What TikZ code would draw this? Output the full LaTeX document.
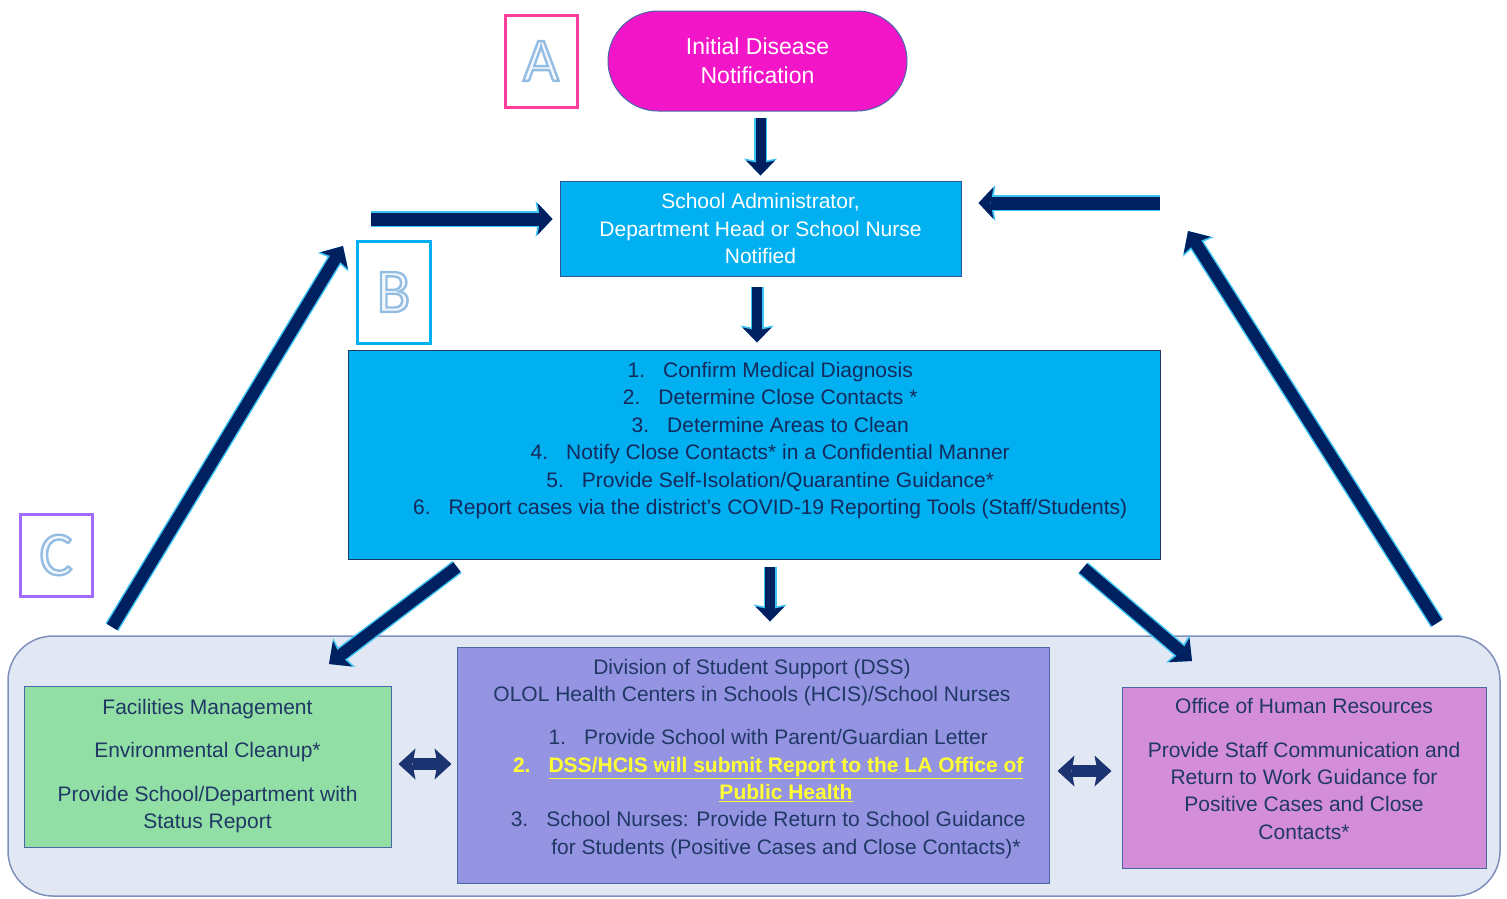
\documentclass[tikz,border=0pt]{standalone}
\usepackage{fontspec}
\setmainfont{Liberation Sans}
\newfontfamily\letterfont{Carlito}
\usetikzlibrary{arrows.meta}
\definecolor{arrownavy}{HTML}{002060}
\definecolor{glowblue}{HTML}{3CC6F6}
\definecolor{cyanbox}{HTML}{00B0F0}
\definecolor{magentabox}{HTML}{F216C8}
\definecolor{boxedge}{HTML}{2F5597}
\definecolor{darkedge}{HTML}{203864}
\definecolor{txtnavy}{HTML}{1F3864}
\definecolor{midtxt}{HTML}{142A5C}
\definecolor{panelfill}{HTML}{E1E7F3}
\definecolor{paneledge}{HTML}{7F90BC}
\definecolor{greenbox}{HTML}{92DFA6}
\definecolor{purplebox}{HTML}{9494E2}
\definecolor{pinkbox}{HTML}{D48ED8}
\definecolor{softedge}{HTML}{4A68A8}
\definecolor{pinkedge}{HTML}{FF3D9A}
\definecolor{violetedge}{HTML}{A16BFF}
\definecolor{letterfill}{HTML}{F4F8FC}
\definecolor{hiyellow}{HTML}{FFFF33}
\definecolor{dblnavy}{HTML}{1B3370}
\newcommand{\numitem}[1]{\llap{#1\hspace{18pt}}}
\newcommand{\boxletter}[1]{{\fontsize{62}{62}\letterfont\color{letterfill}%
  \special{pdf:literal direct 2 Tr 2.4 w 0.58 0.74 0.89 RG}#1\special{pdf:literal direct 0 Tr}}}
\begin{document}
\begin{tikzpicture}[x=1pt,y=-1pt,
  labbox/.style={draw, line width=3pt, inner sep=0pt},
  flowbox/.style={draw=boxedge, line width=1pt, inner sep=0pt, align=center},
  whitetxt/.style={text=white, font=\fontsize{21}{27.4}\selectfont, align=center},
  darktxt/.style={text=txtnavy, font=\fontsize{21}{27.4}\selectfont, align=center, inner sep=0pt},
  varrow/.style={draw=arrownavy, line width=10pt,
    -{Stealth[length=15pt,width=29pt,inset=3pt,line width=0pt]},
    preaction={draw=glowblue, line width=13pt, -{Stealth[length=17pt,width=33pt,inset=3pt,line width=0pt]}}},
  harrow/.style={draw=arrownavy, line width=13pt,
    -{Stealth[length=15pt,width=32pt,inset=3pt,line width=0pt]},
    preaction={draw=glowblue, line width=16pt, -{Stealth[length=17pt,width=36pt,inset=3pt,line width=0pt]}}},
  darrow/.style={draw=arrownavy, line width=12pt,
    -{Stealth[length=17pt,width=32pt,inset=3pt,line width=0pt]},
    preaction={draw=glowblue, line width=15pt, -{Stealth[length=19pt,width=36pt,inset=3pt,line width=0pt]}}},
  dblarrow/.style={draw=dblnavy, line width=12pt,
    {Stealth[length=17pt,width=31pt,inset=3pt,line width=0pt]}-{Stealth[length=17pt,width=31pt,inset=3pt,line width=0pt]}}
]
\useasboundingbox (0,0) rectangle (1507,898);

% letter boxes
\node[labbox, draw=pinkedge, minimum width=72, minimum height=92] (boxA) at (541,61) {\boxletter{A}};
\node[labbox, draw=cyanbox, minimum width=73, minimum height=102] (boxB) at (393.5,292) {\boxletter{B}};
\node[labbox, draw=violetedge, minimum width=72, minimum height=82] (boxC) at (56,555) {\boxletter{C}};

% top flow
\node[flowbox, draw=softedge, fill=magentabox, rounded corners=50pt, minimum width=299, minimum height=100,
  text=white, font=\fontsize{23}{29}\selectfont] (init) at (757.5,61) {Initial Disease\\Notification};
\node[flowbox, fill=cyanbox, minimum width=401, minimum height=95, whitetxt] (admin) at (760.5,228.5)
  {School Administrator,\\Department Head or School Nurse\\Notified};
\node[flowbox, draw=darkedge, fill=cyanbox, minimum width=812, minimum height=209] (mid) at (754,454.5) {};
\node[darktxt, text=midtxt] (midtext) at (788,440.5) {%
  \numitem{1.}Confirm Medical Diagnosis\\
  \numitem{2.}Determine Close Contacts *\\
  \numitem{3.}Determine Areas to Clean\\
  \numitem{4.}Notify Close Contacts* in a Confidential Manner\\
  \numitem{5.}Provide Self-Isolation/Quarantine Guidance*\\
  \numitem{6.}Report cases via the district’s COVID-19 Reporting Tools (Staff/Students)};

% bottom panel
\node[draw=paneledge, line width=1.5pt, fill=panelfill, rounded corners=45pt, minimum width=1492, minimum height=260] (panel) at (754,766) {};
\node[flowbox, draw=softedge, fill=greenbox, minimum width=367, minimum height=161] (green) at (207.5,766.5) {};
\node[darktxt] (greentext) at (207.5,766) {Facilities Management\\[16pt]Environmental Cleanup*\\[16pt]Provide School/Department with\\Status Report};
\node[flowbox, draw=softedge, fill=purplebox, minimum width=592, minimum height=236] (purple) at (753,765) {};
\node[darktxt] (dsshead) at (752,682.5) {Division of Student Support (DSS)\\OLOL Health Centers in Schools (HCIS)/School Nurses};
\node[darktxt] (dsslist) at (786,794) {%
  \numitem{1.}Provide School with Parent/Guardian Letter\\
  {\color{hiyellow}\bfseries\numitem{2.}\underline{DSS/HCIS will submit Report to the LA Office of}}\\
  {\color{hiyellow}\bfseries\underline{Public Health}}\\
  \numitem{3.}School Nurses: Provide Return to School Guidance\\
  for Students (Positive Cases and Close Contacts)*};
\node[flowbox, draw=softedge, fill=pinkbox, minimum width=364, minimum height=181] (pink) at (1304,777.5) {};
\node[darktxt] (hrtext) at (1304,769) {Office of Human Resources\\[16pt]Provide Staff Communication and\\Return to Work Guidance for\\Positive Cases and Close\\Contacts*};

% free ends
\coordinate (lstart) at (371,219);
\coordinate (rstart) at (1160,203);
\coordinate (lfoot) at (112,627);
\coordinate (ltop) at (343,246);
\coordinate (rfoot) at (1437,623);
\coordinate (rtop) at (1188,231);
\coordinate (mlstart) at (457,567);
\coordinate (mlend) at (329,664);
\coordinate (mrstart) at (1083,568);
\coordinate (mrend) at (1192,661);

% connectors
\draw[varrow, shorten <=6pt, shorten >=5pt] (init.south -| admin.north) -- (admin.north);
\draw[varrow, shorten <=10pt, shorten >=7pt] ([xshift=-3.5pt]admin.south) -- ([xshift=-3.5pt]admin.south |- mid.north);
\draw[harrow, shorten >=7pt] (lstart) -- (lstart -| admin.west);
\draw[harrow, shorten >=17pt] (rstart) -- (rstart -| admin.east);
\draw[darrow] (lfoot) -- (ltop);
\draw[darrow] (rfoot) -- (rtop);
\draw[darrow] (mlstart) -- (mlend);
\draw[darrow] (mrstart) -- (mrend);
\draw[varrow, shorten <=7pt, shorten >=25pt] ([xshift=16pt]mid.south) -- ([xshift=16pt]mid.south |- purple.north);
\draw[dblarrow, shorten <=7pt, shorten >=5pt] ([yshift=2.5pt]green.east) -- ([yshift=2.5pt]green.east -| purple.west);
\draw[dblarrow, shorten <=8pt, shorten >=10pt] ([yshift=-6pt]purple.east) -- ([yshift=-6pt]purple.east -| pink.west);
\end{tikzpicture}
\end{document}
